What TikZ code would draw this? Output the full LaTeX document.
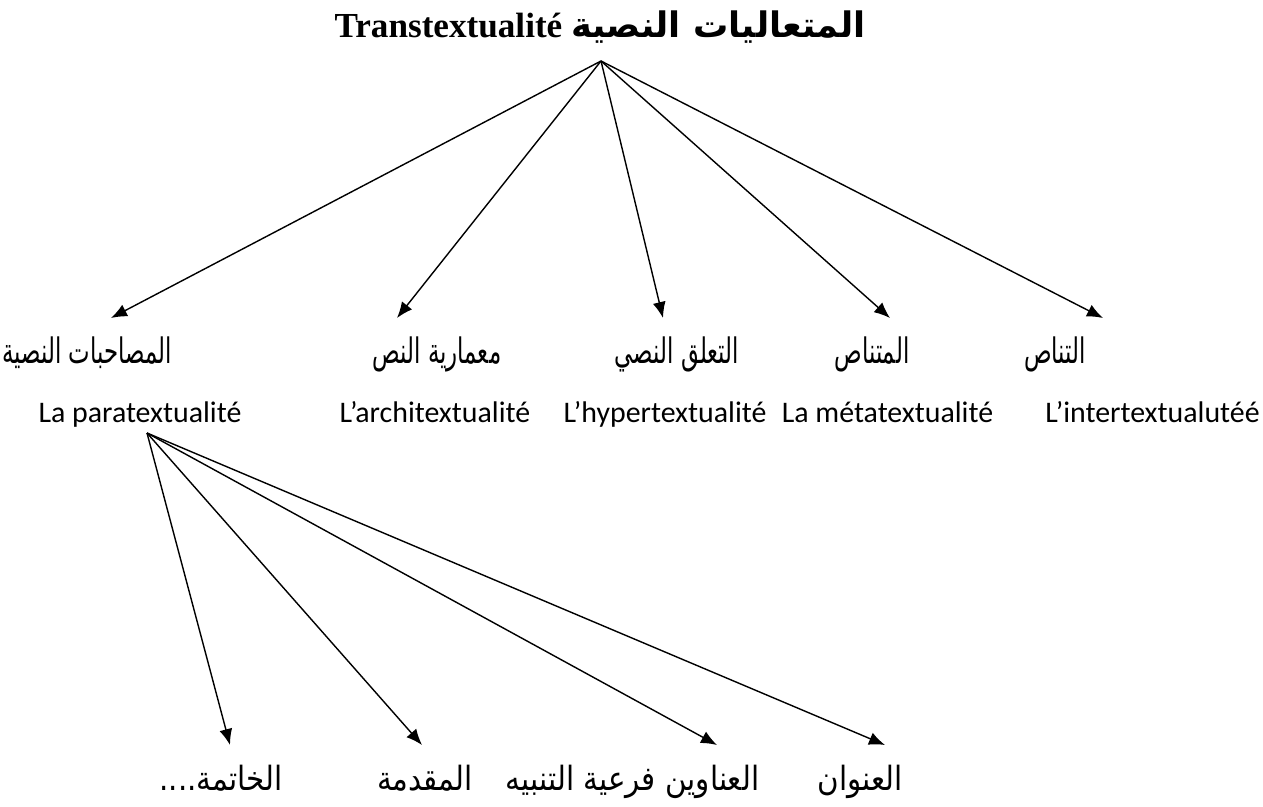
\documentclass[tikz,border=0pt]{standalone}
\usepackage{fontspec}
\setmainfont{Liberation Serif}
\newfontfamily\arabicfont[Script=Arabic]{DejaVu Sans}
\newfontfamily\labfont{Carlito}
\usetikzlibrary{arrows.meta}
\TeXXeTstate=1
\newcommand{\artop}[1]{\scalebox{.65}[1]{\beginR #1\endR}}
\newcommand{\arbot}[1]{\scalebox{.88}[1]{\beginR #1\endR}}

\begin{document}
\begin{tikzpicture}[
        toplab/.style = {font=\arabicfont\fontsize{20}{24}\selectfont, inner sep=0pt, anchor=base},
        botlab/.style = {font=\arabicfont\fontsize{19}{23}\selectfont, inner sep=0pt, anchor=base},
        frlab/.style = {font=\labfont\fontsize{17}{20}\selectfont, inner sep=0pt, anchor=base},
        link/.style = {line width=.8pt, -{Latex[length=3.2mm, width=2.6mm]}}
    ]
        \useasboundingbox (0,0) rectangle (25.26,-16.14);
        \node[inner sep=0pt, anchor=base] (title) at (12,-.76)
            {\fontsize{20}{24}\selectfont\bfseries Transtextualité\ {\arabicfont\bfseries\beginR المتعاليات النصية\endR}};
        \coordinate (top) at (12.02,-1.22);

        \node[toplab] (para) at (1.74,-7.26) {\artop{المصاحبات النصية}};
        \node[toplab] (archi) at (8.74,-7.26) {\artop{معمارية النص}};
        \node[toplab] (hyper) at (13.54,-7.26) {\artop{التعلق النصي}};
        \node[toplab] (meta) at (17.44,-7.26) {\artop{المتناص}};
        \node[toplab] (inter) at (21.1,-7.26) {\artop{التناص}};

        \node[frlab] (paraL) at (2.8,-8.44) {La paratextualité};
        \node[frlab] (archiL) at (8.7,-8.44) {L’architextualité};
        \node[frlab] (hyperL) at (13.3,-8.44) {L’hypertextualité};
        \node[frlab] (metaL) at (17.75,-8.44) {La métatextualité};
        \node[frlab] (interL) at (23.05,-8.44) {L’intertextualutéé};

        \coordinate (t1) at (2.22,-6.36);
        \coordinate (t2) at (7.94,-6.36);
        \coordinate (t3) at (13.26,-6.36);
        \coordinate (t4) at (17.8,-6.36);
        \coordinate (t5) at (22.06,-6.36);
        \draw[link] (top) -- (t1);
        \draw[link] (top) -- (t2);
        \draw[link] (top) -- (t3);
        \draw[link] (top) -- (t4);
        \draw[link] (top) -- (t5);

        \coordinate (sub) at (2.94,-8.66);
        \node[botlab] (fin) at (4.42,-15.8) {\arbot{الخاتمة....}};
        \node[botlab] (intro) at (8.5,-15.8) {\arbot{المقدمة}};
        \node[botlab] (subt) at (12.65,-15.8) {\arbot{العناوين فرعية التنبيه}};
        \node[botlab] (head) at (17.2,-15.8) {\arbot{العنوان}};

        \coordinate (b1) at (4.6,-14.9);
        \coordinate (b2) at (8.44,-14.9);
        \coordinate (b3) at (14.34,-14.9);
        \coordinate (b4) at (17.7,-14.9);
        \draw[link] (sub) -- (b1);
        \draw[link] (sub) -- (b2);
        \draw[link] (sub) -- (b3);
        \draw[link] (sub) -- (b4);
    \end{tikzpicture}
\end{document}
